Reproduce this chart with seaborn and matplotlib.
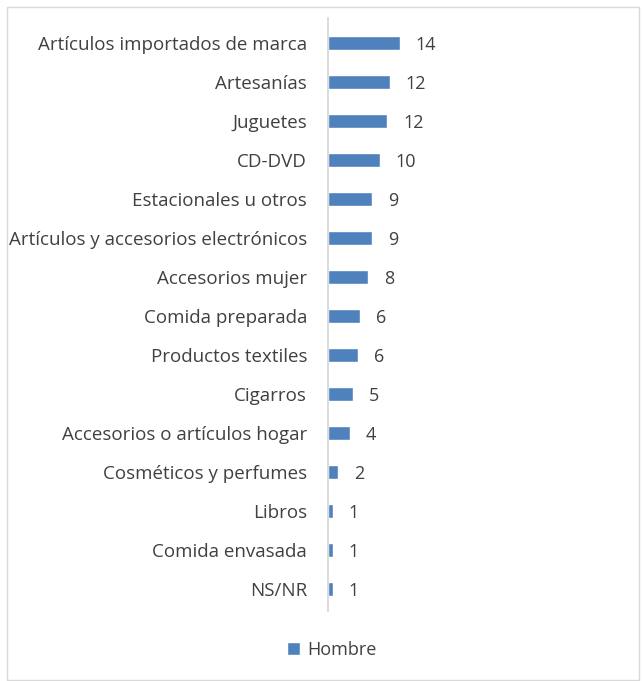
import matplotlib
matplotlib.use("Agg")
import matplotlib.pyplot as plt
import seaborn as sns
import pandas as pd
from matplotlib.patches import Rectangle

# datos (orden de arriba hacia abajo)
categorias = ["Artículos importados de marca", "Artesanías", "Juguetes", "CD-DVD",
              "Estacionales u otros", "Artículos y accesorios electrónicos",
              "Accesorios mujer", "Comida preparada", "Productos textiles",
              "Cigarros", "Accesorios o artículos hogar", "Cosméticos y perfumes",
              "Libros", "Comida envasada", "NS/NR"]
valores = [14.0, 12.05, 11.6, 10.1, 8.65, 8.65, 7.75, 6.25, 5.8, 4.8, 4.3, 1.9, 0.9, 0.9, 0.9]
etiquetas = ["14", "12", "12", "10", "9", "9", "8", "6", "6", "5", "4", "2", "1", "1", "1"]
serie = "Hombre"

df = pd.DataFrame({"categoria": categorias, "valor": valores})

sns.set_theme(style="white")
plt.rcParams["font.family"] = ["Open Sans", "DejaVu Sans"]
texto = "#404040"
fs = 13

fig = plt.figure(figsize=(6.42, 6.81), dpi=100)
ax = fig.add_axes([328 / 642, 1 - 608 / 681, 297 / 642, 584 / 681])

sns.barplot(data=df, x="valor", y="categoria", color="#4F81BD", width=0.36,
            saturation=1, ax=ax, label=serie)
txts = ax.bar_label(ax.containers[0], labels=etiquetas, padding=11.5,
                    fontsize=fs, color=texto)
for t in txts:
    t.set_verticalalignment("center_baseline")

ax.set_xlim(0, 297 / 5.12)
ax.set_ylim(len(categorias) - 0.5, -0.5)
ax.set_xlabel("")
ax.set_ylabel("")
ax.set_xticks([])
ax.tick_params(axis="y", length=0, pad=15, labelsize=13.5, labelcolor=texto)
for lab in ax.get_yticklabels():
    lab.set_verticalalignment("center_baseline")
for s in ["top", "right", "bottom"]:
    ax.spines[s].set_visible(False)
ax.spines["left"].set_color("#D9D9D9")
ax.spines["left"].set_linewidth(1.3)
ax.spines["left"].set_bounds(len(categorias) - 0.42, -0.66)

ax.legend(loc="center", bbox_to_anchor=(332 / 642, 1 - 650 / 681),
          bbox_transform=fig.transFigure, frameon=False, fontsize=fs,
          labelcolor=texto, handlelength=0.7, handleheight=0.7, handletextpad=0.4)

# borde exterior del grafico
fig.patches.append(Rectangle((7 / 642, 0.002), 632 / 642, 1 - 7 / 681 - 0.002,
                             transform=fig.transFigure, fill=False,
                             edgecolor="#D9D9D9", linewidth=1))

fig.savefig("out.png", dpi=100)
